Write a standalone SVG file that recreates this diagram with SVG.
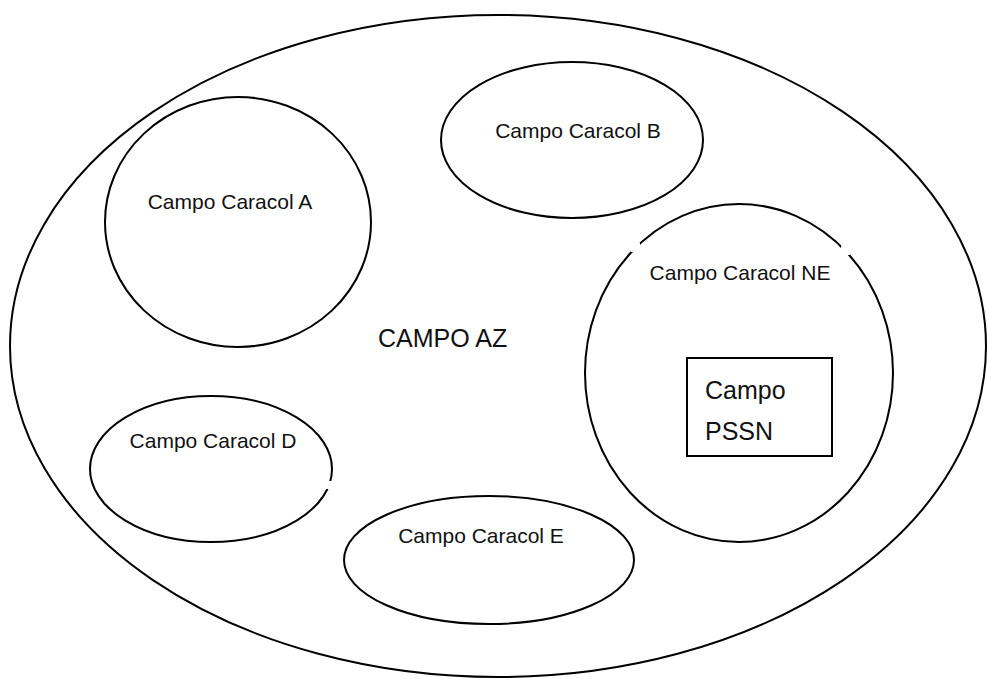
<svg xmlns="http://www.w3.org/2000/svg" width="987" height="679" viewBox="0 0 987 679">
<style>
.sh{fill:none;stroke:#000;stroke-width:2}
.t{font-family:"Liberation Sans",Arial,sans-serif;font-size:21px;fill:#111;text-anchor:middle}
.big{font-family:"Liberation Sans",Arial,sans-serif;font-size:25px;fill:#111}
.gap{fill:#fff;stroke:none}
</style>
<rect width="987" height="679" fill="#fff"/>
<g id="campo-az">
<ellipse class="sh" cx="498" cy="346" rx="488" ry="331"/>
<text class="big" x="378" y="347">CAMPO AZ</text>
</g>
<g id="caracol-a">
<ellipse class="sh" cx="238" cy="222" rx="133" ry="125"/>
<text class="t" x="230" y="209">Campo Caracol A</text>
</g>
<g id="caracol-b">
<ellipse class="sh" cx="572" cy="140" rx="131" ry="78"/>
<text class="t" x="578" y="138">Campo Caracol B</text>
</g>
<g id="caracol-ne">
<ellipse class="sh" cx="739" cy="373" rx="154" ry="169"/>
<rect class="gap" x="631" y="243" width="9" height="9"/>
<rect class="gap" x="841" y="246" width="9" height="9"/>
<text class="t" x="740" y="280">Campo Caracol NE</text>
</g>
<g id="campo-pssn">
<rect class="sh" x="687" y="358" width="145" height="98"/>
<text class="big" x="705" y="399">Campo</text>
<text class="big" x="705" y="440">PSSN</text>
</g>
<g id="caracol-d">
<ellipse class="sh" cx="211" cy="469" rx="121" ry="73"/>
<rect class="gap" x="323" y="481" width="10" height="8"/>
<text class="t" x="213" y="448">Campo Caracol D</text>
</g>
<g id="caracol-e">
<ellipse class="sh" cx="489" cy="560" rx="145" ry="64"/>
<text class="t" x="481" y="543">Campo Caracol E</text>
</g>
<g id="connectors"></g>
</svg>
